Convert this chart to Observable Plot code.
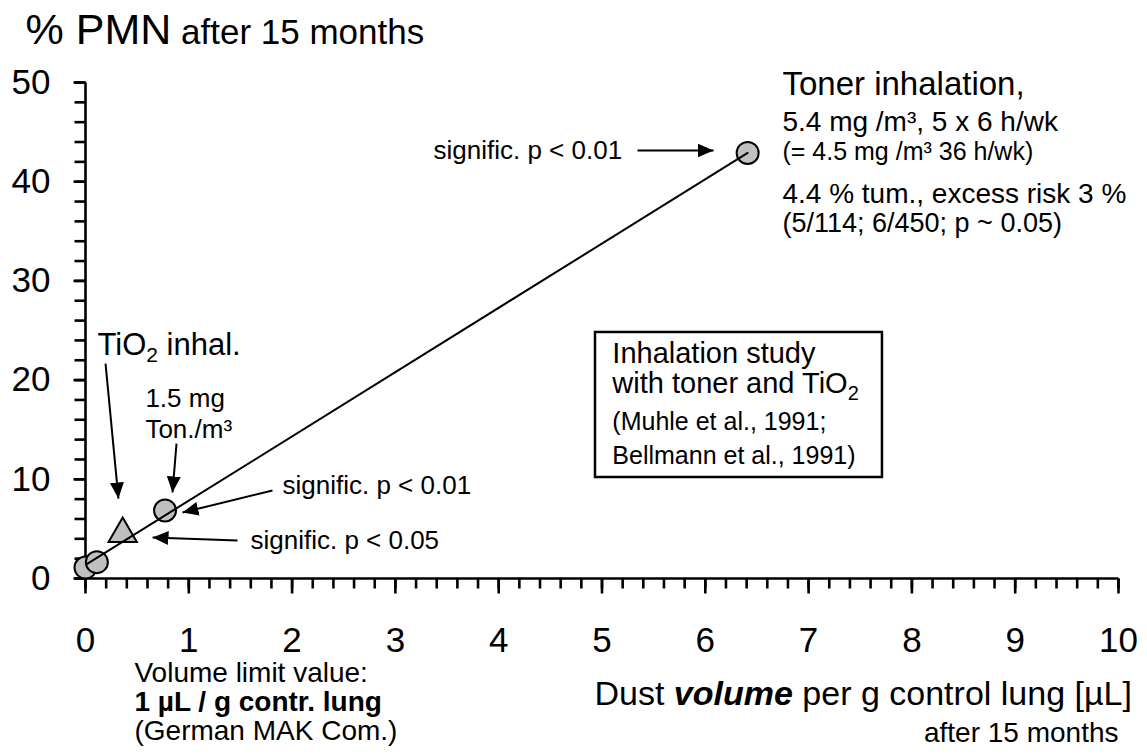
<!DOCTYPE html>
<html>
<head>
<meta charset="utf-8">
<script src="https://cdn.jsdelivr.net/npm/d3@7"></script>
<script src="https://cdn.jsdelivr.net/npm/@observablehq/plot@0.6"></script>
<style>
  html, body { margin: 0; padding: 0; background: #fff; }
  #chart { width: 1147px; height: 756px; }
</style>
</head>
<body>
<div id="chart"></div>
<script>
// ---------- data ----------
const xTicks = [0, 1, 2, 3, 4, 5, 6, 7, 8, 9, 10];
const yTicks = [0, 10, 20, 30, 40, 50];
const xMinorTicks = d3.range(0, 51).map(i => i / 5);
const yMinorTicks = d3.range(0, 26).map(i => i * 2);

// toner groups (circles): dust volume [µL/g lung], % PMN
const tonerVolume = [0, 0.11, 0.77, 6.41];
const tonerPMN = [1.1, 1.65, 6.85, 42.9];
// TiO2 group (triangle)
const tio2Volume = [0.36];
const tio2PMN = [4.5];
// drawn trend line
const trendVolume = [0.02, 6.41];
const trendPMN = [1.5, 42.9];

const toner = tonerVolume.map((v, i) => ({volume: v, pmn: tonerPMN[i]}));
const tio2 = tio2Volume.map((v, i) => ({volume: v, pmn: tio2PMN[i]}));
const trend = trendVolume.map((v, i) => ({volume: v, pmn: trendPMN[i]}));

// ---------- annotation layout ----------
const arrows = [
  {x1: 5.344, y1: 43.15, x2: 6.08, y2: 43.15},
  {x1: 1.81, y1: 8.87, x2: 0.939, y2: 6.65},
  {x1: 1.471, y1: 3.83, x2: 0.649, y2: 4.13},
  {x1: 0.194, y1: 21.67, x2: 0.319, y2: 8.06},
  {x1: 0.881, y1: 13.6, x2: 0.842, y2: 8.67}
];

const notes = [
  {text: "% PMN after 15 months", x: -0.58, y: 53.93, size: 43},
  {text: "TiO2 inhal.", x: 0.116, y: 22.48, size: 31},
  {text: "1.5 mg\nTon./m³", x: 0.58, y: 14.2, size: 26, lh: 1.19},
  {text: "signific. p < 0.01", x: 1.907, y: 9.375, size: 26, la: "middle"},
  {text: "signific. p < 0.05", x: 1.597, y: 3.83, size: 26, la: "middle"},
  {text: "signific. p < 0.01", x: 3.369, y: 43.15, size: 26, la: "middle"},
  {text: "Toner inhalation,", x: 6.747, y: 48.69, size: 33},
  {text: "5.4 mg /m³, 5 x 6 h/wk", x: 6.747, y: 45.16, size: 28},
  {text: "(= 4.5 mg /m³ 36 h/wk)", x: 6.747, y: 42.14, size: 25},
  {text: "4.4 % tum., excess risk 3 %", x: 6.747, y: 37.9, size: 28},
  {text: "(5/114; 6/450; p ~ 0.05)", x: 6.747, y: 34.88, size: 27},
  {text: "Inhalation study", x: 5.10, y: 21.77, size: 29},
  {text: "with toner and TiO2", x: 5.10, y: 18.65, size: 29},
  {text: "(Muhle et al., 1991;", x: 5.10, y: 14.92, size: 25},
  {text: "Bellmann et al., 1991)", x: 5.10, y: 11.59, size: 25},
  {text: "Volume limit value:", x: 0.474, y: -10.48, size: 28},
  {text: "1 µL / g contr. lung", x: 0.474, y: -13.31, size: 28, weight: "bold"},
  {text: "(German MAK Com.)", x: 0.474, y: -16.33, size: 28},
  {text: "Dust volume per g control lung [µL]", x: 10.13, y: -12.8, size: 34, anchor: "end"},
  {text: "after 15 months", x: 10.0, y: -16.53, size: 28, anchor: "end"}
];

const box = [{x1: 4.937, x2: 7.715, y1: 10.18, y2: 24.8}];

const rich = {
  "% PMN after 15 months": [{t: "% PMN"}, {t: " after 15 months", size: 35}],
  "TiO2 inhal.": [{t: "TiO"}, {t: "2", size: 21, shift: 7}, {t: " inhal."}],
  "with toner and TiO2": [{t: "with toner and TiO"}, {t: "2", size: 20, shift: 7}],
  "Dust volume per g control lung [µL]": [{t: "Dust "}, {t: "volume", weight: "bold", style: "italic"}, {t: " per g control lung [µL]"}]
};

// ---------- chart ----------
const FONT = "'Liberation Sans', Arial, Helvetica, sans-serif";
const W = 1147, H = 756, ML = 85, MR = 29, MT = 82, MB = 178;
const XMAX = 10, YMAX = 50;
const pxX = XMAX / (W - ML - MR);   // data units per pixel (x)
const pxY = YMAX / (H - MT - MB);   // data units per pixel (y)

// tick segments (in data space, lengths converted from pixels)
const tickSegs = [
  ...xMinorTicks.map(v => ({x1: v, x2: v, y1: 0, y2: -10 * pxY})),
  ...xTicks.map(v => ({x1: v, x2: v, y1: 0, y2: -15 * pxY})),
  ...yMinorTicks.map(v => ({x1: 0, x2: -11 * pxX, y1: v, y2: v})),
  ...yTicks.map(v => ({x1: 0, x2: -12 * pxX, y1: v, y2: v}))
];

const marks = [
  // tick labels
  Plot.axisX(xTicks, {tickSize: 0, tickPadding: 49, fontSize: 35, fill: "black"}),
  Plot.axisY(yTicks, {tickSize: 0, tickPadding: 35, fontSize: 35, fill: "black"}),
  // tick marks
  Plot.link(tickSegs, {x1: "x1", y1: "y1", x2: "x2", y2: "y2", stroke: "black", strokeWidth: 2.6}),
  // axis lines
  Plot.link([{x1: 0, y1: 0, x2: XMAX, y2: 0}, {x1: 0, y1: 0, x2: 0, y2: YMAX}],
    {x1: "x1", y1: "y1", x2: "x2", y2: "y2", stroke: "black", strokeWidth: 2.6}),
  // data
  Plot.dot(toner, {x: "volume", y: "pmn", r: 11, fill: "#c0c0c0", stroke: "black", strokeWidth: 2}),
  Plot.dot(tio2, {x: "volume", y: "pmn", r: 10.5, symbol: "triangle", fill: "#c0c0c0", stroke: "black", strokeWidth: 2}),
  Plot.line(trend, {x: "volume", y: "pmn", stroke: "black", strokeWidth: 2}),
  // arrows
  Plot.link(arrows, {x1: "x1", y1: "y1", x2: "x2", y2: "y2", stroke: "black", strokeWidth: 2, markerEnd: "arrow"}),
  // box
  Plot.rect(box, {x1: "x1", x2: "x2", y1: "y1", y2: "y2", fill: "white", stroke: "black", strokeWidth: 2.5})
];

for (const n of notes) {
  marks.push(Plot.text([n], {
    x: "x", y: "y", text: "text",
    fontSize: n.size,
    fontWeight: n.weight || "normal",
    textAnchor: n.anchor || "start",
    lineAnchor: n.la || "bottom",
    lineHeight: n.lh || 1,
    fill: "black"
  }));
}

const svg = Plot.plot({
  width: W,
  height: H,
  marginLeft: ML,
  marginRight: MR,
  marginTop: MT,
  marginBottom: MB,
  style: {fontFamily: FONT, background: "white", color: "black", overflow: "visible"},
  x: {domain: [0, XMAX], axis: null},
  y: {domain: [0, YMAX], axis: null},
  marks
});

// filled arrowheads
d3.select(svg).selectAll("marker").each(function() {
  const m = d3.select(this);
  m.selectAll("*").remove();
  m.attr("viewBox", "-16 -7 16 14")
    .attr("markerWidth", 16).attr("markerHeight", 14)
    .attr("markerUnits", "userSpaceOnUse")
    .attr("refX", 0).attr("refY", 0)
    .attr("orient", "auto")
    .attr("fill", "black").attr("stroke", "none");
  m.append("path").attr("d", "M-16,-7L0,0L-16,7Z").attr("fill", "black");
});

// mixed-style text
d3.select(svg).selectAll("text").each(function() {
  const segs = rich[this.textContent];
  if (!segs) return;
  const el = d3.select(this);
  el.text(null);
  let shift = 0;
  for (const s of segs) {
    const ts = el.append("tspan").text(s.t);
    if (s.size) ts.attr("font-size", s.size);
    if (s.weight) ts.attr("font-weight", s.weight);
    if (s.style) ts.attr("font-style", s.style);
    const target = s.shift || 0;
    if (target !== shift) { ts.attr("dy", target - shift); shift = target; }
  }
});

document.getElementById("chart").appendChild(svg);
</script>
</body>
</html>
